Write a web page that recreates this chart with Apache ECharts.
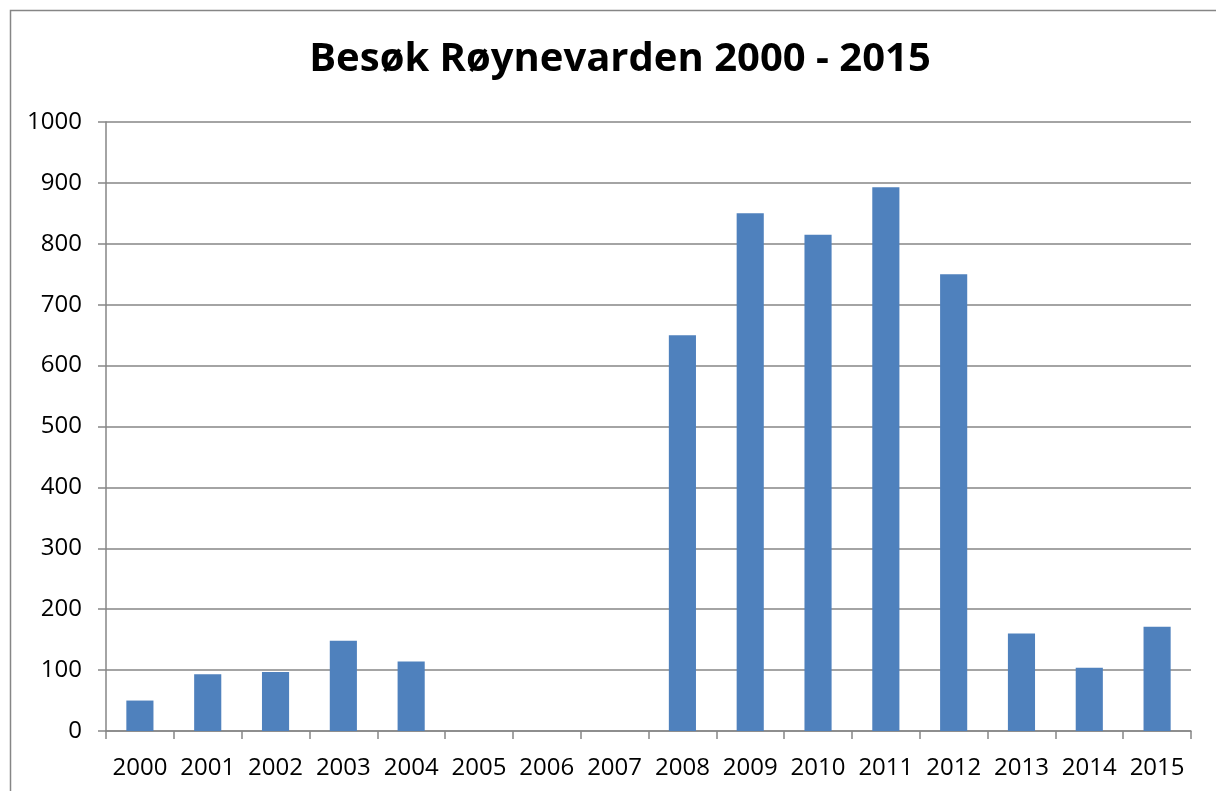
<!DOCTYPE html>
<html>
<head>
<meta charset="utf-8">
<script src="https://cdn.jsdelivr.net/npm/echarts@6/dist/echarts.min.js"></script>
<style>
  html, body { margin: 0; padding: 0; background: #fff; }
  #chart { width: 1216px; height: 791px; }
</style>
</head>
<body>
<div id="chart"></div>
<script>
const years = ['2000', '2001', '2002', '2003', '2004', '2005', '2006', '2007',
  '2008', '2009', '2010', '2011', '2012', '2013', '2014', '2015']
const visits = [50, 93, 97, 148, 114, 0, 0, 0, 650, 850, 815, 893, 750, 160, 104, 171]
const titleText = 'Besøk Røynevarden 2000 - 2015'

const font = '"Open Sans", "Liberation Sans", sans-serif'
const gray = '#868686'

const chart = echarts.init(document.getElementById('chart'))
chart.setOption({
  animation: false,
  backgroundColor: '#fff',
  title: {
    text: titleText,
    left: 615,
    top: 35,
    textAlign: 'center',
    textStyle: { fontFamily: font, fontSize: 40, fontWeight: 'bold', color: '#000' }
  },
  graphic: [{
    type: 'rect',
    shape: { x: 10.5, y: 10.5, width: 1400, height: 1000 },
    style: { fill: null, stroke: gray, lineWidth: 1.5 },
    silent: true
  }],
  grid: { left: 106, right: 25, top: 122, bottom: 60 },
  xAxis: {
    type: 'category',
    data: years,
    axisLine: { lineStyle: { color: gray, width: 1.5 } },
    axisTick: { show: true, length: 8, lineStyle: { color: gray, width: 1.5 } },
    axisLabel: { fontFamily: font, fontSize: 24, color: '#000', margin: 25, interval: 0 }
  },
  yAxis: {
    type: 'value',
    min: 0,
    max: 1000,
    interval: 100,
    axisLine: { show: true, lineStyle: { color: gray, width: 1.5 } },
    axisTick: { show: true, length: 8, lineStyle: { color: gray, width: 1.5 } },
    splitLine: { lineStyle: { color: gray, width: 1.5 } },
    axisLabel: { fontFamily: font, fontSize: 24, color: '#000', margin: 24, formatter: v => String(v) }
  },
  series: [{
    type: 'bar',
    data: visits,
    barWidth: '40%',
    itemStyle: { color: '#4F81BD' }
  }]
})
</script>
</body>
</html>
